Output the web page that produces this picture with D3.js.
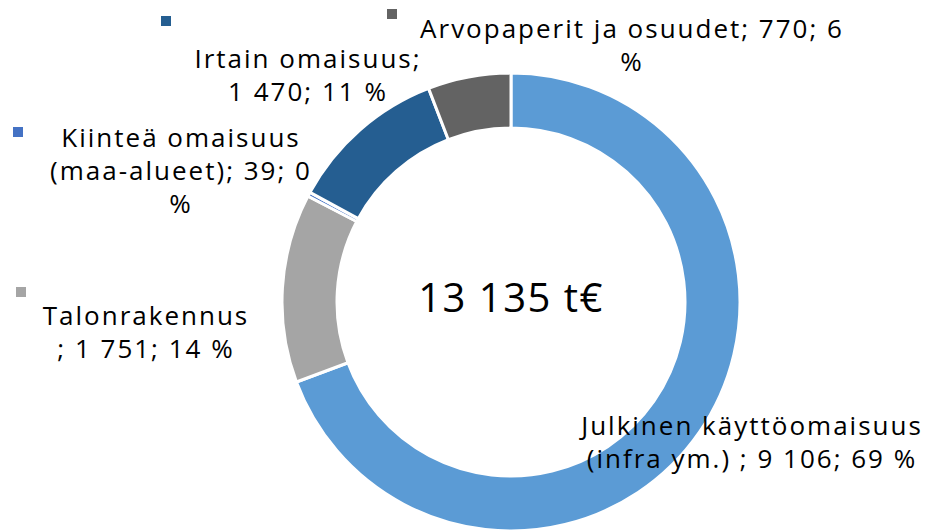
<!DOCTYPE html>
<html>
<head>
<meta charset="utf-8">
<script src="https://cdn.jsdelivr.net/npm/d3@7"></script>
<style>
  body { margin: 0; background: #fff; }
  text { font-family: "Open Sans", sans-serif; fill: #000; }
</style>
</head>
<body>
<div id="chart"></div>
<script>
'use strict';

// data
const categories = ['Julkinen käyttöomaisuus (infra ym.) ', 'Talonrakennus ', 'Kiinteä omaisuus (maa-alueet)', 'Irtain omaisuus', 'Arvopaperit ja osuudet']
const values = [9106, 1751, 39, 1470, 770]
const percents = [69, 14, 0, 11, 6]
const totalLabel = '13 135 t€'
const colors = ['#5b9bd5', '#a5a5a5', '#4472c4', '#255e91', '#636363']

// layout of labels: centre x, first baseline y, words per line, marker pos
const labelLayout = [
  { x: 752, y: 435, words: [2, 7], marker: null },
  { x: 146, y: 325, words: [1, 5], marker: [16, 287] },
  { x: 181, y: 147, words: [2, 3, 1], marker: [13, 127] },
  { x: 308, y: 68, words: [2, 4], marker: [161, 16] },
  { x: 632, y: 38, words: [5, 1], marker: [387, 9] }
]

const width = 928, height = 531
const cx = 511, cy = 302
const outerR = 229, innerR = 174
const lineH = 33

const locale = d3.formatLocale({ decimal: ',', thousands: ' ', grouping: [3], currency: ['', ''] })
const fmt = locale.format(',d')

const svg = d3.select('#chart').append('svg')
    .attr('width', width)
    .attr('height', height)

const pie = d3.pie().sort(null).value(d => d)
const arc = d3.arc().innerRadius(innerR).outerRadius(outerR)

const g = svg.append('g').attr('transform', `translate(${cx},${cy})`)

g.selectAll('path')
    .data(pie(values))
    .join('path')
    .attr('d', arc)
    .attr('fill', (d, i) => colors[i])
    .attr('stroke', '#fff')
    .attr('stroke-width', 3)

g.append('text')
    .attr('text-anchor', 'middle')
    .attr('y', 10)
    .style('font-size', '40px')
    .style('letter-spacing', '1.5px')
    .text(totalLabel)

// labels
categories.forEach((name, i) => {
  const lay = labelLayout[i]
  const full = name + '; ' + fmt(values[i]) + '; ' + percents[i] + ' %'
  const words = full.split(/\s+/)
  const lines = []
  let k = 0
  lay.words.forEach(n => {
    lines.push(words.slice(k, k + n).join(' '))
    k += n
  })

  if (lay.marker) {
    svg.append('rect')
        .attr('x', lay.marker[0])
        .attr('y', lay.marker[1])
        .attr('width', 10)
        .attr('height', 10)
        .attr('fill', colors[i])
  }

  lines.forEach((l, j) => {
    svg.append('text')
        .attr('text-anchor', 'middle')
        .attr('x', lay.x)
        .attr('y', lay.y + j * lineH)
        .style('font-size', '26px')
        .style('letter-spacing', '2px')
        .text(l)
  })
})
</script>
</body>
</html>
